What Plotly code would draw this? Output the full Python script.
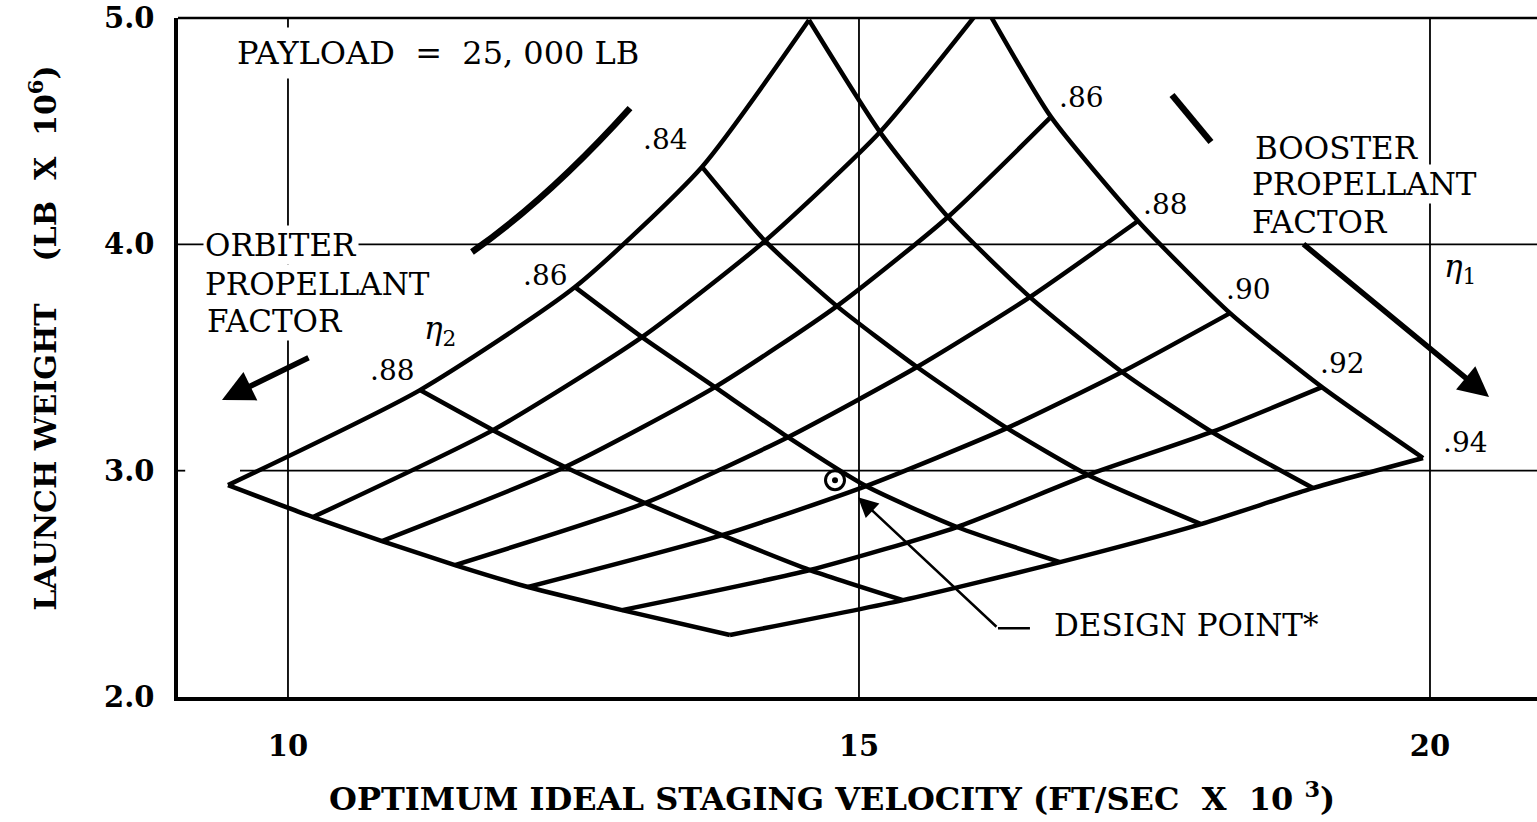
import plotly.graph_objects as go

# carpet of launch weight vs staging velocity
# booster propellant factor (eta1) lines run lower-left -> upper-right,
# orbiter propellant factor (eta2) lines run upper-left -> lower-right
booster_eta = [0.82, 0.84, 0.86, 0.88, 0.90, 0.92, 0.94]
orbiter_eta = [0.90, 0.88, 0.86, 0.84, 0.82, 0.80]

# staging velocity (ft/sec x 10^3) at every eta1 / eta2 crossing, one row per eta1
velocity = [
    [9.475, 11.156, 12.513, 13.625, 14.562, None],
    [10.219, 11.795, 13.100, 14.177, 15.184, 16.095],
    [10.823, 12.426, 13.739, 14.807, 15.779, 16.681],
    [11.462, 13.126, 14.378, 15.508, 16.497, 17.443],
    [12.102, 13.800, 15.061, 16.296, 17.303, 18.249],
    [12.925, 14.571, 15.858, 17.005, 18.091, 19.054],
    [13.870, 15.385, 16.760, 17.995, 18.975, 19.939],
]
# launch weight (lb x 10^6) at the same crossings
weight = [
    [2.936, 3.356, 3.811, 4.342, 4.991, None],
    [2.795, 3.179, 3.590, 4.015, 4.496, 5.060],
    [2.689, 3.016, 3.369, 3.727, 4.121, 4.563],
    [2.583, 2.857, 3.148, 3.458, 3.767, 4.103],
    [2.486, 2.715, 2.932, 3.188, 3.436, 3.696],
    [2.384, 2.561, 2.751, 2.981, 3.171, 3.369],
    [2.274, 2.428, 2.596, 2.764, 2.923, 3.056],
]

design_velocity = [14.79]
design_weight = [2.958]

x_ticks = [10, 15, 20]
y_ticks = [2.0, 3.0, 4.0, 5.0]

SERIF = "DejaVu Serif"
carpet_line = dict(color="black", width=4.5, shape="spline", smoothing=0.6)

fig = go.Figure()

# eta1 lines
for i, eta in enumerate(booster_eta):
    pts = [(v, w) for v, w in zip(velocity[i], weight[i]) if v is not None]
    fig.add_trace(go.Scatter(
        x=[p[0] for p in pts], y=[p[1] for p in pts],
        mode="lines", line=carpet_line, hoverinfo="skip",
        name="eta1 = %.2f" % eta))

# eta2 lines
for j, eta in enumerate(orbiter_eta):
    pts = [(velocity[i][j], weight[i][j]) for i in range(len(booster_eta))
           if velocity[i][j] is not None]
    fig.add_trace(go.Scatter(
        x=[p[0] for p in pts], y=[p[1] for p in pts],
        mode="lines", line=carpet_line, hoverinfo="skip",
        name="eta2 = %.2f" % eta))

# design point
fig.add_trace(go.Scatter(
    x=design_velocity, y=design_weight, mode="markers",
    marker=dict(symbol="circle", size=19, color="white",
                line=dict(color="black", width=3))))
fig.add_trace(go.Scatter(
    x=design_velocity, y=design_weight, mode="markers",
    marker=dict(symbol="circle", size=6, color="black")))

annotations = []


def note(text, x, y, size=31, bold=False, **kw):
    d = dict(text=text, x=x, y=y, xref="x", yref="y", showarrow=False,
             xanchor="left", yanchor="middle",
             font=dict(family=SERIF, size=size, color="black",
                       weight="bold" if bold else "normal"))
    d.update(kw)
    annotations.append(d)


# eta1 labels at the upper right edge
booster_shift = [(6, 19), (3, 17), (-6, 24), (-4, 24), (18, 15)]
for k, i in enumerate(range(2, 7)):
    note(".%d" % round(booster_eta[i] * 100), velocity[i][5], weight[i][5],
         size=28, xshift=booster_shift[k][0], yshift=booster_shift[k][1])

# eta2 labels at the upper left edge
orbiter_shift = {1: (-3, 20), 2: (-5, 12), 3: (-12, 27)}
for j, (dx, dy) in orbiter_shift.items():
    note(".%d" % round(orbiter_eta[j] * 100), velocity[0][j], weight[0][j],
         size=28, xanchor="right", xshift=dx, yshift=dy)

nb = "\u00a0"
note("PAYLOAD" + nb * 2 + "=" + nb * 2 + "25," + nb + "000 LB", 9.492, 4.845,
     size=32, bgcolor="white", borderpad=6)
note("ORBITER", 9.256, 3.997, bgcolor="white", borderpad=1)
note("PROPELLANT", 9.256, 3.825, bgcolor="white", borderpad=1)
note("FACTOR", 9.273, 3.661, bgcolor="white", borderpad=1)
note("<i>η</i><sub>2</sub>", 11.331, 3.621, size=31, xanchor="center")
note("BOOSTER", 18.450, 4.426)
note("PROPELLANT", 18.424, 4.266, bgcolor="white", borderpad=1)
note("FACTOR", 18.424, 4.099)
note("<i>η</i><sub>1</sub>", 20.263, 3.895, size=31, xanchor="center")
note("DESIGN POINT*", 16.690, 2.318)

# arrows
arrow = dict(text="", showarrow=True, xref="x", yref="y", axref="x", ayref="y",
             arrowcolor="black", arrowhead=2)
annotations.append(dict(arrow, x=9.422, y=3.312, ax=10.193, ay=3.502,
                        arrowwidth=5.5, arrowsize=1.15))
annotations.append(dict(arrow, x=20.517, y=3.325, ax=18.879, ay=4.006,
                        arrowwidth=5.5, arrowsize=1.1))
annotations.append(dict(arrow, x=14.991, y=2.883, ax=16.217, ay=2.304,
                        arrowwidth=2.5, arrowsize=1.6))

# axis titles
annotations.append(dict(
    text="OPTIMUM IDEAL STAGING VELOCITY (FT/SEC" + nb * 2 + "X" + nb * 2
         + "10" + nb + "<sup>3</sup>)",
    x=0.481, y=-0.147, xref="paper", yref="paper", showarrow=False,
    xanchor="center", yanchor="middle",
    font=dict(family=SERIF, size=32, color="black", weight="bold")))
annotations.append(dict(
    text="LAUNCH WEIGHT" + nb * 4 + "(LB" + nb * 2 + "X" + nb * 2
         + "10<sup>6</sup>)",
    x=-0.0993, y=0.529, xref="paper", yref="paper", showarrow=False,
    textangle=-90, xanchor="center", yanchor="middle",
    font=dict(family=SERIF, size=30, color="black", weight="bold")))

shapes = []
# grid lines
for gx in x_ticks:
    shapes.append(dict(type="line", xref="x", yref="y", x0=gx, x1=gx,
                       y0=2.0, y1=5.0, layer="below",
                       line=dict(color="black", width=1.8)))
shapes.append(dict(type="line", xref="paper", yref="y", x0=0, x1=1,
                   y0=4.0, y1=4.0, layer="below",
                   line=dict(color="black", width=1.8)))
shapes.append(dict(type="line", xref="x", yref="y", x0=9.58, x1=20.94,
                   y0=3.0, y1=3.0, layer="below",
                   line=dict(color="black", width=1.8)))
shapes.append(dict(type="line", xref="x", yref="y", x0=9.037, x1=9.1,
                   y0=3.0, y1=3.0, layer="below",
                   line=dict(color="black", width=1.8)))
# top border
shapes.append(dict(type="line", xref="paper", yref="paper", x0=0, x1=1,
                   y0=1, y1=1, line=dict(color="black", width=2.5)))
# thick direction strokes
shapes.append(dict(type="path", xref="x", yref="y",
                   path="M 11.611,3.966 Q 12.285,4.205 12.995,4.602",
                   line=dict(color="black", width=6.5)))
shapes.append(dict(type="line", xref="x", yref="y", x0=17.741, y0=4.660,
                   x1=18.082, y1=4.452, line=dict(color="black", width=6.5)))
# design point leader foot
shapes.append(dict(type="line", xref="x", yref="y", x0=16.217, y0=2.304,
                   x1=16.497, y1=2.304, line=dict(color="black", width=2.5)))

fig.update_layout(
    width=1537, height=822,
    margin=dict(l=178, r=0, t=18, b=125),
    paper_bgcolor="white", plot_bgcolor="white",
    showlegend=False,
    annotations=annotations,
    shapes=shapes,
    xaxis=dict(range=[9.037, 20.937], tickvals=x_ticks,
               ticktext=[str(t) for t in x_ticks],
               showgrid=False, zeroline=False, showline=True,
               linecolor="black", linewidth=3.5, ticks="",
               ticklabelstandoff=20,
               tickfont=dict(family=SERIF, size=29, color="black",
                             weight="bold")),
    yaxis=dict(range=[2.0, 5.0], tickvals=y_ticks,
               ticktext=["%.1f" % t for t in y_ticks],
               showgrid=False, zeroline=False, showline=True,
               linecolor="black", linewidth=3.5, ticks="",
               ticklabelstandoff=14,
               tickfont=dict(family=SERIF, size=29, color="black",
                             weight="bold")),
)

fig.write_html("out.html", config={"displayModeBar": False},
               post_script="document.body.style.margin='0';")
